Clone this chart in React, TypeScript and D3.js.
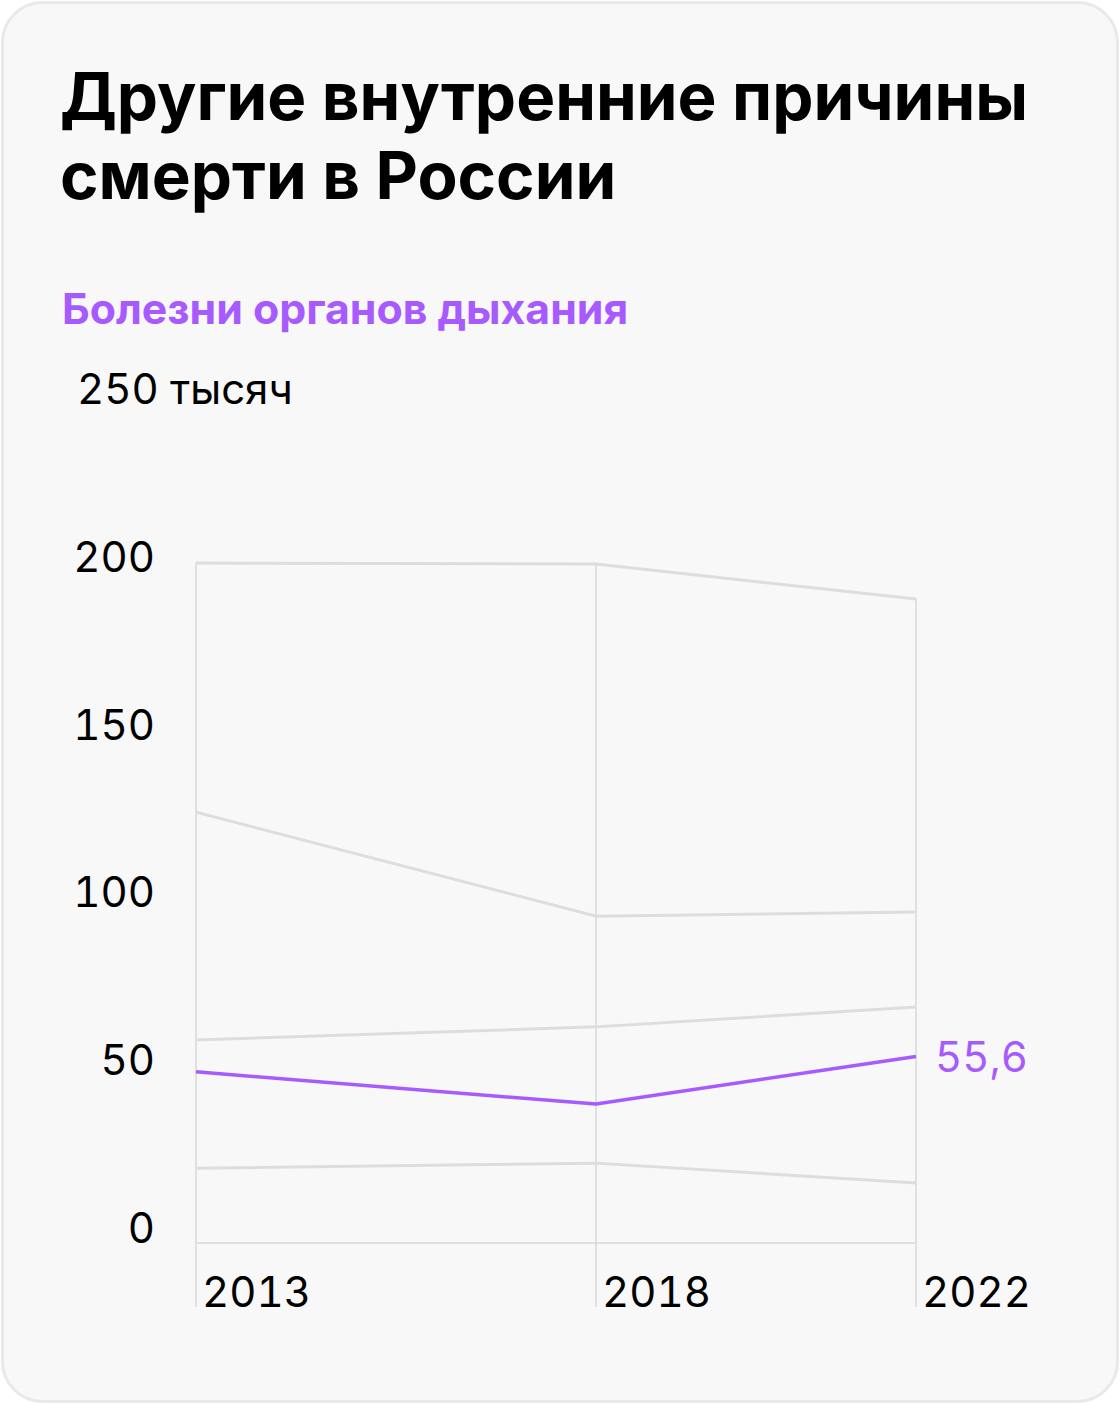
import React from "react";
import * as d3 from "d3";

const years = [2013, 2018, 2022];
const seriesTop = [202.6, 202.3, 191.9];
const seriesSecond = [128.4, 97.4, 98.6];
const seriesThird = [60.5, 64.4, 70.3];
const seriesRespiratory = [51.0, 41.4, 55.6];
const seriesBottom = [22.3, 23.8, 17.9];
const graySeries = [seriesTop, seriesSecond, seriesThird, seriesBottom];
const yTicks = [0, 50, 100, 150, 200];
const title = ["Другие внутренние причины", "смерти в России"];
const subtitle = "Болезни органов дыхания";
const unitLabel = "250 тысяч";
const lastLabel = "55,6";

const W = 1120;
const H = 1404;
const PURPLE = "#a75bff";
const GRAY_LINE = "#dddddd";
const GRID = "#d9d9d9";

export default function App() {
  const x = d3.scaleLinear().domain([2013, 2022]).range([196, 916]);
  const y = d3.scaleLinear().domain([0, 250]).range([1243, 404]);
  const line = d3
    .line<number>()
    .x((_, i) => x(years[i]))
    .y((d) => y(d));
  const font = "Inter, Roboto, sans-serif";
  const num = { fontVariantNumeric: "tabular-nums", fontFeatureSettings: "'tnum' 1" } as React.CSSProperties;
  const bottomY = 1307;
  return (
    <svg
      width={W}
      height={H}
      viewBox={`0 0 ${W} ${H}`}
      style={{ position: "absolute", left: 0, top: 0, background: "#ffffff" }}
    >
      <rect x={2.5} y={2.5} width={W - 5} height={H - 5} rx={40} ry={40} fill="#f8f8f8" stroke="#e9e9e9" strokeWidth={3} />
      <text fontFamily={font} fontWeight={700} fontSize={65.5} fill="#000">
        <tspan x={60} y={120}>{title[0]}</tspan>
        <tspan x={60} y={199}>{title[1]}</tspan>
      </text>
      <text x={62} y={324} fontFamily={font} fontWeight={700} fontSize={42.8} fill={PURPLE}>
        {subtitle}
      </text>
      <text x={77} y={y(250)} fontFamily={font} fontSize={42} fill="#000" style={num}>
        {unitLabel}
      </text>
      {yTicks.map((t) => (
        <text key={t} x={155} y={y(t)} textAnchor="end" fontFamily={font} fontSize={42} fill="#000" style={num}>
          {t}
        </text>
      ))}
      {years.map((yr, i) => {
        const top = Math.max(...graySeries.map((s) => s[i]), seriesRespiratory[i]);
        return (
          <line key={yr} x1={x(yr)} x2={x(yr)} y1={y(top)} y2={bottomY} stroke={GRID} strokeWidth={1.5} />
        );
      })}
      <line x1={x(2013)} x2={x(2022)} y1={y(0)} y2={y(0)} stroke={GRID} strokeWidth={1.5} />
      {years.map((yr) => (
        <text key={yr} x={x(yr) + 6} y={bottomY} fontFamily={font} fontSize={42} fill="#000" style={num}>
          {yr}
        </text>
      ))}
      {graySeries.map((s, i) => (
        <path key={i} d={line(s) || ""} fill="none" stroke={GRAY_LINE} strokeWidth={3} strokeLinejoin="round" />
      ))}
      <path d={line(seriesRespiratory) || ""} fill="none" stroke={PURPLE} strokeWidth={3.5} strokeLinejoin="round" />
      <text x={x(2022) + 19} y={y(seriesRespiratory[2]) + 16} fontFamily={font} fontSize={42} fill={PURPLE} style={num}>
        {lastLabel}
      </text>
    </svg>
  );
}
